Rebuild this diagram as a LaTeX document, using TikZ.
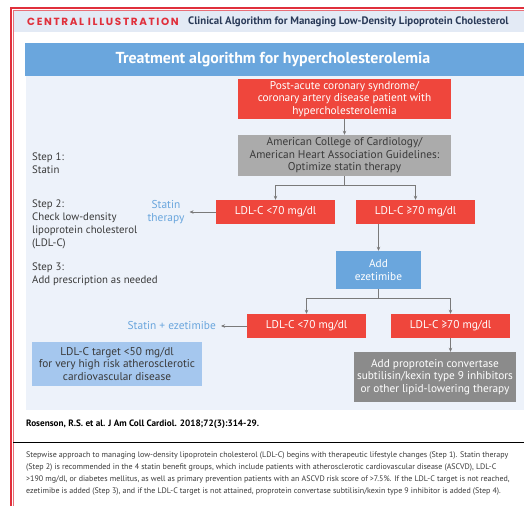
\documentclass[tikz,border=0pt]{standalone}
\usepackage{fontspec}
\setmainfont{PT Sans}
\newfontfamily\hdfont[LetterSpace=16]{Poppins}
\usetikzlibrary{arrows.meta}
\definecolor{jred}{HTML}{EF463C}
\definecolor{frame}{HTML}{E0303C}
\definecolor{hband}{HTML}{E3EAF5}
\definecolor{panel}{HTML}{EDF2FA}
\definecolor{jblue}{HTML}{6AA6DD}
\definecolor{lblue}{HTML}{A5C7EE}
\definecolor{gbox}{HTML}{ABABAB}
\definecolor{dbox}{HTML}{8B8B8B}
\definecolor{navy}{HTML}{2A3A58}
\definecolor{txt}{HTML}{3A3A3A}
\definecolor{conn}{HTML}{7A7A7A}
\tikzset{
  x=1pt, y=-1pt,
  box/.style={inner sep=0pt, align=center, font=\fontsize{11.3}{12.6}\selectfont},
  redbox/.style={box, fill=jred, text=white},
  graybox/.style={box, fill=gbox, text=txt},
  darkbox/.style={box, fill=dbox, text=white},
  bluebox/.style={box, fill=jblue, text=white},
  lbbox/.style={box, fill=lblue, text=txt},
  steplbl/.style={inner sep=0pt, align=left, anchor=west, text=txt, font=\fontsize{10.8}{13}\selectfont},
  outlbl/.style={inner sep=0pt, align=center, text=jblue, font=\fontsize{11.4}{13}\selectfont},
  arr/.style={draw=conn, line width=0.7pt, -{Stealth[length=4pt,width=3.5pt]}},
  ln/.style={draw=conn, line width=0.7pt},
}
\begin{document}
\begin{tikzpicture}
\useasboundingbox (0,0) rectangle (524,506);
\fill[white] (0,0) rectangle (524,506);
% header band and frame
\fill[hband] (13.5,10) rectangle (524,32);
\draw[frame, line width=1.2pt] (11,506) -- (11,8) -- (524,8);
\draw[frame!70, line width=0.6pt] (13.5,506) -- (13.5,10.5) -- (524,10.5);
\node[anchor=west, inner sep=0pt, text=frame, font=\hdfont\bfseries\fontsize{10.4}{11}\selectfont] (ci) at (27,21.5) {CENTRAL ILLUSTRATION};
\node[anchor=west, inner sep=0pt, text=navy, font=\bfseries\fontsize{10.85}{12}\selectfont] (ct) at (188,21.5) {Clinical Algorithm for Managing Low-Density Lipoprotein Cholesterol};
% panel
\fill[panel] (26,76) rectangle (524,410);
\fill[jblue] (25,43) rectangle (524,76);
\node[inner sep=0pt, text=white, font=\bfseries\fontsize{15.9}{17}\selectfont] (title) at (273,60) {Treatment algorithm for hypercholesterolemia};
% boxes
\node[redbox, minimum width=213pt, minimum height=40pt] (top) at (344.5,99) {Post-acute coronary syndrome/\\coronary artery disease patient with\\hypercholesterolemia};
\node[graybox, minimum width=213pt, minimum height=41pt] (acc) at (344.5,155.5) {American College of Cardiology/\\American Heart Association Guidelines:\\Optimize statin therapy};
\node[redbox, minimum width=119pt, minimum height=24pt] (lo1) at (275.5,212) {LDL-C <70 mg/dl};
\node[redbox, minimum width=119pt, minimum height=24pt] (hi1) at (415.5,212) {LDL-C ≥70 mg/dl};
\node[bluebox, minimum width=85pt, minimum height=38pt] (eze) at (378.5,270) {Add\\ezetimibe};
\node[redbox, minimum width=119pt, minimum height=24pt] (lo2) at (306.5,326) {LDL-C <70 mg/dl};
\node[redbox, minimum width=119pt, minimum height=24pt] (hi2) at (450.5,326) {LDL-C ≥70 mg/dl};
\node[darkbox, minimum width=162pt, minimum height=50pt] (pcsk) at (435,377) {Add proprotein convertase\\subtilisin/kexin type 9 inhibitors\\or other lipid-lowering therapy};
\node[lbbox, minimum width=170pt, minimum height=44pt] (target) at (117,364) {LDL-C target <50 mg/dl\\for very high risk atherosclerotic\\cardiovascular disease};
% outcome labels
\node[outlbl] (st) at (166,212) {Statin\\therapy};
\node[outlbl, anchor=east] (se) at (216,326) {Statin + ezetimibe};
% step labels
\node[steplbl] (s1) at (32,163.5) {Step 1:\\Statin};
\node[steplbl] (s2) at (32,224.5) {Step 2:\\Check low-density\\lipoprotein cholesterol\\(LDL-C)};
\node[steplbl] (s3) at (32,274.5) {Step 3:\\Add prescription as needed};
% connectors
\draw[arr] (top.south) -- (acc.north);
\draw[ln] (acc.south) -- ++(0,9) coordinate (b1);
\draw[arr] (b1) -| (lo1.north);
\draw[arr] (b1) -| (hi1.north);
\draw[arr] (lo1.west) -- ([xshift=5pt]st.east);
\draw[arr] (eze.north |- hi1.south) -- (eze.north);
\draw[ln] (eze.south) -- ++(0,9) coordinate (b2);
\draw[arr] (b2) -| (lo2.north);
\draw[arr] (b2) -| (hi2.north);
\draw[arr] (lo2.west) -- ([xshift=5pt]se.east);
\draw[arr] (hi2.south) -- (hi2.south |- pcsk.north);
% citation and caption
\node[anchor=west, inner sep=0pt, text=black, font=\bfseries\fontsize{9.2}{11}\selectfont] (cite) at (26,424) {Rosenson, R.S. et al. J Am Coll Cardiol. 2018;72(3):314-29.};
\draw[black, line width=0.9pt] (13,442) -- (524,442);
\node[anchor=north west, inner sep=0pt, align=left, text=txt, font=\fontsize{8.0}{12}\selectfont] (cap) at (26,452) {Stepwise approach to managing low-density lipoprotein cholesterol (LDL-C) begins with therapeutic lifestyle changes (Step 1). Statin therapy\\(Step 2) is recommended in the 4 statin benefit groups, which include patients with atherosclerotic cardiovascular disease (ASCVD), LDL-C\\>190 mg/dl, or diabetes mellitus, as well as primary prevention patients with an ASCVD risk score of >7.5\%. If the LDL-C target is not reached,\\ezetimibe is added (Step 3), and if the LDL-C target is not attained, proprotein convertase subtilisin/kexin type 9 inhibitor is added (Step 4).};
\end{tikzpicture}
\end{document}
